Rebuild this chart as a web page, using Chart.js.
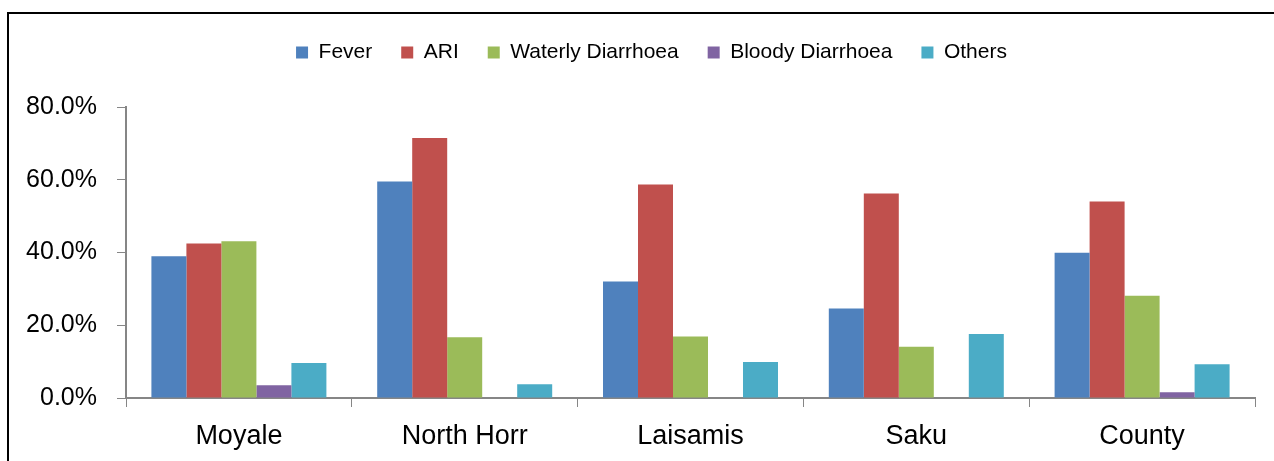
<!DOCTYPE html>
<html>
<head>
<meta charset="utf-8">
<script src="https://cdn.jsdelivr.net/npm/chart.js@4.4.1/dist/chart.umd.min.js"></script>
<style>
    html, body { margin: 0; padding: 0; background: #fff; overflow: hidden; }
    #frame {
        position: absolute; left: 7px; top: 12px;
        width: 1400px; height: 600px;
        border-left: 2px solid #000; border-top: 2px solid #000;
    }
    #wrap { position: absolute; left: 0; top: 0; width: 1274px; height: 461px; }
</style>
</head>
<body>
<div id="frame"></div>
<div id="wrap"><canvas id="chart" width="1274" height="461"></canvas></div>
<script>
// --- DATA ---
const districts = ['Moyale', 'North Horr', 'Laisamis', 'Saku', 'County'];
const fever = [39.0, 59.5, 32.0, 24.6, 39.9];
const ari = [42.5, 71.5, 58.7, 56.2, 54.0];
const wateryDiarrhoea = [43.1, 16.7, 16.9, 14.1, 28.1];
const bloodyDiarrhoea = [3.5, 0, 0, 0, 1.6];
const others = [9.6, 3.8, 9.9, 17.6, 9.3];
const yTicks = [0, 20, 40, 60, 80];

const FONT = '"Liberation Sans", Arial, sans-serif';
const axisGrey = '#868686';

function series(label, data, color) {
    return {
        label: label,
        data: data,
        backgroundColor: color,
        borderWidth: 0,
        categoryPercentage: 0.775,
        barPercentage: 1.0
    };
}

// Excel-like legend placement: taller legend box, nudged right
const legendTweak = {
    id: 'legendTweak',
    afterInit(chart) {
        const fit = chart.legend.fit;
        chart.legend.fit = function() {
            fit.call(this);
            this.height += 34;
        };
    },
    afterLayout(chart) {
        chart.legend.left += 24;
        chart.legend.right += 24;
    }
};

// --- CHART ---
const ctx = document.getElementById('chart').getContext('2d');
new Chart(ctx, {
    type: 'bar',
    data: {
        labels: districts,
        datasets: [
            series('Fever', fever, '#4F81BD'),
            series('ARI', ari, '#C0504D'),
            series('Waterly Diarrhoea', wateryDiarrhoea, '#9BBB59'),
            series('Bloody Diarrhoea', bloodyDiarrhoea, '#8064A2'),
            series('Others', others, '#4BACC6')
        ]
    },
    plugins: [legendTweak],
    options: {
        responsive: false,
        animation: false,
        layout: { padding: { top: 13, right: 19, bottom: 0, left: 0 } },
        plugins: {
            tooltip: { enabled: false },
            legend: {
                position: 'top',
                labels: {
                    boxWidth: 12,
                    boxHeight: 12,
                    padding: 29,
                    color: '#000',
                    font: { family: FONT, size: 21 }
                }
            }
        },
        scales: {
            x: {
                grid: {
                    drawOnChartArea: false,
                    drawTicks: true,
                    tickLength: 9,
                    color: axisGrey,
                    offset: true
                },
                border: { color: axisGrey, width: 2 },
                ticks: {
                    color: '#000',
                    padding: 13,
                    maxRotation: 0,
                    font: { family: FONT, size: 27 }
                },
                afterFit: function(scale) { scale.height = 63; }
            },
            y: {
                min: 0,
                max: 80,
                afterBuildTicks: function(scale) {
                    scale.ticks = yTicks.map(v => ({ value: v }));
                },
                grid: {
                    drawOnChartArea: false,
                    drawTicks: true,
                    tickLength: 9,
                    color: axisGrey
                },
                border: { color: axisGrey, width: 2 },
                ticks: {
                    color: '#000',
                    padding: 20,
                    font: { family: FONT, size: 25 },
                    callback: function(v) { return v.toFixed(1) + '%'; }
                },
                afterFit: function(scale) { scale.width = 126; }
            }
        }
    }
});
</script>
</body>
</html>
